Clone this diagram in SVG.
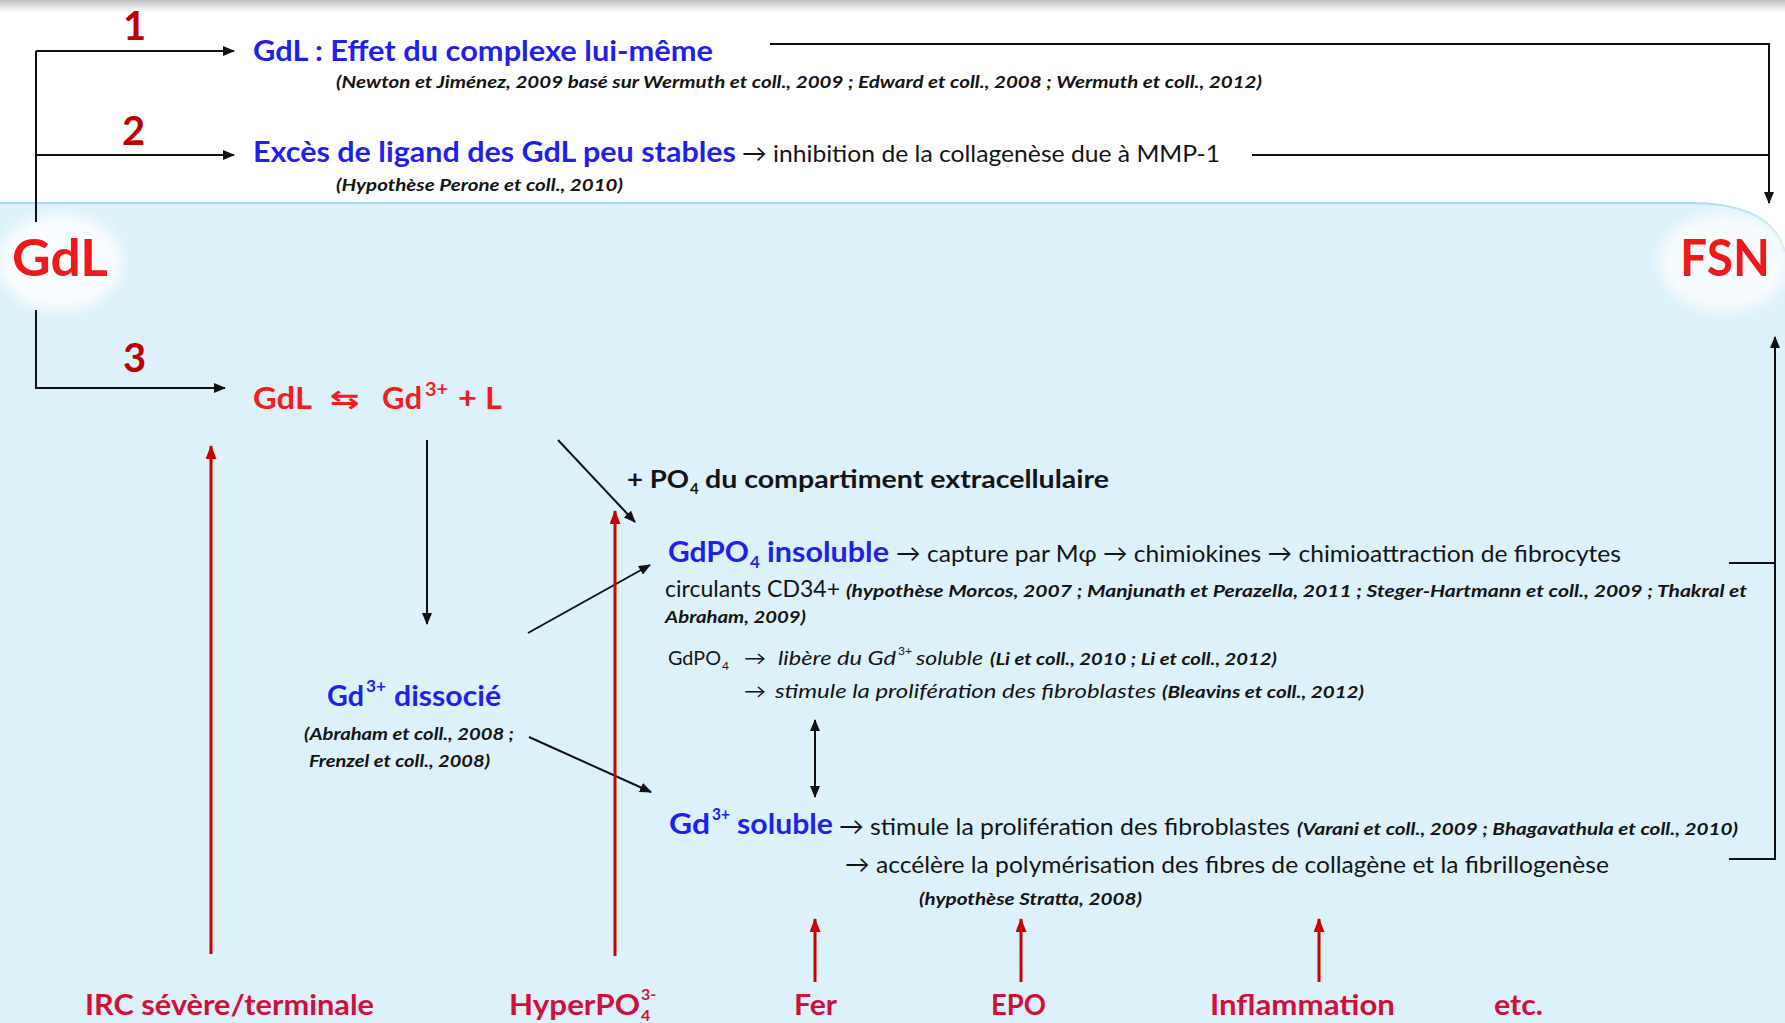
<svg xmlns="http://www.w3.org/2000/svg" width="1785" height="1023" viewBox="0 0 1785 1023">
  <defs>
    <linearGradient id="topShade" x1="0" y1="0" x2="0" y2="1">
      <stop offset="0" stop-color="#c2c2c2"/>
      <stop offset="1" stop-color="#ffffff"/>
    </linearGradient>
    <filter id="soft" x="-50%" y="-50%" width="200%" height="200%">
      <feGaussianBlur stdDeviation="7"/>
    </filter>
    <marker id="ah" viewBox="0 0 12 10" refX="11" refY="5" markerWidth="12" markerHeight="10" markerUnits="userSpaceOnUse" orient="auto-start-reverse">
      <path d="M0,0 L12,5 L0,10 z" fill="#111"/>
    </marker>
    <marker id="ahr" viewBox="0 0 14 11" refX="13" refY="5.5" markerWidth="14" markerHeight="11" markerUnits="userSpaceOnUse" orient="auto-start-reverse">
      <path d="M0,0 L14,5.5 L0,11 z" fill="#cc0000"/>
    </marker>
    <style>
      text { font-family: Lato, "Liberation Sans", "DejaVu Sans", sans-serif; }
      .num { font-size: 40px; font-weight: 700; fill: #c00000; }
      .big { font-size: 52px; font-weight: 700; fill: #f01818; }
      .hdr { font-size: 28px; font-weight: 700; fill: #1f1ff0; }
      .hsup { font-size: 17px; font-weight: 700; fill: #1f1ff0; }
      .eq { font-size: 30px; font-weight: 700; fill: #f51c1c; }
      .eqsup { font-size: 18px; font-weight: 700; fill: #f51c1c; }
      .sym { font-family: "DejaVu Sans", sans-serif; font-size: 26px; font-weight: 700; fill: #f51c1c; }
      .body { font-size: 24px; fill: #141414; }
      .bodyb { font-size: 25px; font-weight: 700; fill: #141414; }
      .sub { font-size: 15px; font-weight: 700; fill: #141414; }
      .cit { font-size: 17px; font-weight: 700; font-style: italic; fill: #141414; }
      .sm { font-size: 19px; fill: #141414; }
      .smi { font-size: 19px; font-style: italic; fill: #141414; }
      .smsup { font-size: 12px; fill: #141414; }
      .bot { font-size: 28px; font-weight: 700; fill: #d0103a; }
      .botsup { font-size: 16px; font-weight: 700; fill: #d0103a; }
      .ln { fill: none; stroke: #111; stroke-width: 2; }
      .lnr { fill: none; stroke: #cc0000; stroke-width: 3; }
    </style>
  </defs>

  <!-- backdrop: white page, shaded top edge, light blue field -->
  <rect x="0" y="0" width="1785" height="1023" fill="#ffffff"/>
  <rect x="0" y="0" width="1785" height="12" fill="url(#topShade)"/>
  <path d="M0,203 H1690 Q1772,203 1785,252 V1023 H0 Z" fill="#dcf1fa"/>
  <path d="M0,203 H1690 Q1772,203 1785,252" fill="none" stroke="#a9dcef" stroke-width="2"/>
  <ellipse cx="60" cy="262" rx="62" ry="48" fill="#ffffff" opacity="0.85" filter="url(#soft)"/>
  <ellipse cx="1725" cy="262" rx="66" ry="50" fill="#ffffff" opacity="0.75" filter="url(#soft)"/>

  <!-- connectors -->
  <g id="connectors">
    <path class="ln" d="M36,51 V222"/>
    <path class="ln" d="M36,51 H234" marker-end="url(#ah)"/>
    <path class="ln" d="M36,155 H234" marker-end="url(#ah)"/>
    <path class="ln" d="M36,310 V388 H225" marker-end="url(#ah)"/>
    <path class="ln" d="M770,44 H1769 V203" marker-end="url(#ah)"/>
    <path class="ln" d="M1252,155 H1769"/>
    <path class="ln" d="M1729,563 H1775"/>
    <path class="ln" d="M1729,859 H1775 V337" marker-end="url(#ah)"/>
    <path class="ln" d="M427,440 V624" marker-end="url(#ah)"/>
    <path class="ln" d="M558,440 L635,522" marker-end="url(#ah)"/>
    <path class="ln" d="M528,633 L650,565" marker-end="url(#ah)"/>
    <path class="ln" d="M529,737 L651,792" marker-end="url(#ah)"/>
    <path class="ln" d="M815,720 V797" marker-start="url(#ah)" marker-end="url(#ah)"/>
    <path class="lnr" d="M211,954 V446" marker-end="url(#ahr)"/>
    <path class="lnr" d="M615,956 V511" marker-end="url(#ahr)"/>
    <path class="lnr" d="M815,982 V919" marker-end="url(#ahr)"/>
    <path class="lnr" d="M1021,982 V919" marker-end="url(#ahr)"/>
    <path class="lnr" d="M1319,982 V919" marker-end="url(#ahr)"/>
  </g>

  <!-- pathway numbers -->
  <g id="label-1"><text class="num" x="123" y="40">1</text></g>
  <g id="label-2"><text class="num" x="122" y="145">2</text></g>
  <g id="label-3"><text class="num" x="123" y="372">3</text></g>

  <!-- end points -->
  <g id="node-gdl"><text class="big" x="12" y="276" textLength="96" lengthAdjust="spacingAndGlyphs">GdL</text></g>
  <g id="node-fsn"><text class="big" x="1680" y="276" textLength="90" lengthAdjust="spacingAndGlyphs">FSN</text></g>

  <!-- pathway 1 -->
  <g id="node-effet">
    <text class="hdr" x="253" y="61" textLength="460" lengthAdjust="spacingAndGlyphs">GdL : Effet du complexe lui-même</text>
    <text class="cit" x="336" y="88" textLength="926" lengthAdjust="spacingAndGlyphs">(Newton et Jiménez, 2009 basé sur Wermuth et coll., 2009 ; Edward et coll., 2008 ; Wermuth et coll., 2012)</text>
  </g>

  <!-- pathway 2 -->
  <g id="node-exces">
    <text class="hdr" x="253" y="162" textLength="483" lengthAdjust="spacingAndGlyphs">Excès de ligand des GdL peu stables</text>
    <text class="body" x="742" y="162" textLength="478" lengthAdjust="spacingAndGlyphs">→ inhibition de la collagenèse due à MMP-1</text>
    <text class="cit" x="336" y="191" textLength="287" lengthAdjust="spacingAndGlyphs">(Hypothèse Perone et coll., 2010)</text>
  </g>

  <!-- pathway 3: dissociation equilibrium -->
  <g id="node-equilibre">
    <text class="eq" x="253" y="409" textLength="59" lengthAdjust="spacingAndGlyphs">GdL</text>
    <text class="sym" x="330" y="408" textLength="30" lengthAdjust="spacingAndGlyphs">⇆</text>
    <text class="eq" x="382" y="409" textLength="40" lengthAdjust="spacingAndGlyphs">Gd</text>
    <text class="eqsup" x="425" y="396" textLength="23" lengthAdjust="spacingAndGlyphs">3+</text>
    <text class="eq" x="458" y="409" textLength="44" lengthAdjust="spacingAndGlyphs">+ L</text>
  </g>

  <g id="node-po4">
    <text class="bodyb" x="627" y="488" textLength="62" lengthAdjust="spacingAndGlyphs">+ PO</text>
    <text class="sub" x="690" y="494">4</text>
    <text class="bodyb" x="705" y="488" textLength="404" lengthAdjust="spacingAndGlyphs">du compartiment extracellulaire</text>
  </g>

  <g id="node-gdpo4">
    <text class="hdr" x="668" y="562" textLength="81" lengthAdjust="spacingAndGlyphs">GdPO</text>
    <text class="hsup" x="750" y="568">4</text>
    <text class="hdr" x="767" y="562" textLength="122" lengthAdjust="spacingAndGlyphs">insoluble</text>
    <text class="body" x="896" y="562" textLength="725" lengthAdjust="spacingAndGlyphs">→ capture par Mφ → chimiokines → chimioattraction de fibrocytes</text>
    <text class="body" x="665" y="597" textLength="175" lengthAdjust="spacingAndGlyphs">circulants CD34+</text>
    <text class="cit" x="846" y="597" textLength="901" lengthAdjust="spacingAndGlyphs">(hypothèse Morcos, 2007 ; Manjunath et Perazella, 2011 ; Steger-Hartmann et coll.,  2009 ;  Thakral et</text>
    <text class="cit" x="665" y="623" textLength="141" lengthAdjust="spacingAndGlyphs">Abraham, 2009)</text>
    <text class="sm" x="668" y="665" textLength="53" lengthAdjust="spacingAndGlyphs">GdPO</text>
    <text class="smsup" x="722" y="670">4</text>
    <text class="sm" x="744" y="665" textLength="22" lengthAdjust="spacingAndGlyphs">→</text>
    <text class="smi" x="778" y="665" textLength="118" lengthAdjust="spacingAndGlyphs">libère du Gd</text>
    <text class="smsup" x="898" y="655">3+</text>
    <text class="smi" x="916" y="665" textLength="67" lengthAdjust="spacingAndGlyphs">soluble</text>
    <text class="cit" x="990" y="665" textLength="287" lengthAdjust="spacingAndGlyphs">(Li et coll., 2010 ; Li et coll., 2012)</text>
    <text class="sm" x="744" y="698" textLength="22" lengthAdjust="spacingAndGlyphs">→</text>
    <text class="smi" x="775" y="698" textLength="381" lengthAdjust="spacingAndGlyphs">stimule la prolifération des fibroblastes</text>
    <text class="cit" x="1162" y="698" textLength="202" lengthAdjust="spacingAndGlyphs">(Bleavins et coll., 2012)</text>
  </g>

  <g id="node-dissocie">
    <text class="hdr" x="327" y="706" textLength="37" lengthAdjust="spacingAndGlyphs">Gd</text>
    <text class="hsup" x="366" y="692" textLength="20" lengthAdjust="spacingAndGlyphs">3+</text>
    <text class="hdr" x="394" y="706" textLength="107" lengthAdjust="spacingAndGlyphs">dissocié</text>
    <text class="cit" x="304" y="740" textLength="210" lengthAdjust="spacingAndGlyphs">(Abraham et coll., 2008 ;</text>
    <text class="cit" x="309" y="767" textLength="181" lengthAdjust="spacingAndGlyphs">Frenzel et coll., 2008)</text>
  </g>

  <g id="node-soluble">
    <text class="hdr" x="669" y="834" textLength="41" lengthAdjust="spacingAndGlyphs">Gd</text>
    <text class="hsup" x="712" y="820" textLength="18" lengthAdjust="spacingAndGlyphs">3+</text>
    <text class="hdr" x="737" y="834" textLength="96" lengthAdjust="spacingAndGlyphs">soluble</text>
    <text class="body" x="839" y="835" textLength="451" lengthAdjust="spacingAndGlyphs">→ stimule la prolifération des fibroblastes</text>
    <text class="cit" x="1297" y="835" textLength="441" lengthAdjust="spacingAndGlyphs">(Varani et coll., 2009 ; Bhagavathula et coll., 2010)</text>
    <text class="body" x="845" y="873" textLength="764" lengthAdjust="spacingAndGlyphs">→ accélère la polymérisation des fibres de collagène et la fibrillogenèse</text>
    <text class="cit" x="919" y="905" textLength="223" lengthAdjust="spacingAndGlyphs">(hypothèse Stratta, 2008)</text>
  </g>

  <!-- aggravating factors -->
  <g id="node-irc"><text class="bot" x="85" y="1015" textLength="289" lengthAdjust="spacingAndGlyphs">IRC sévère/terminale</text></g>
  <g id="node-hyperpo4">
    <text class="bot" x="509" y="1015" textLength="131" lengthAdjust="spacingAndGlyphs">HyperPO</text>
    <text class="botsup" x="641" y="1021">4</text>
    <text class="botsup" x="641" y="1000">3-</text>
  </g>
  <g id="node-fer"><text class="bot" x="794" y="1015" textLength="43" lengthAdjust="spacingAndGlyphs">Fer</text></g>
  <g id="node-epo"><text class="bot" x="991" y="1015" textLength="55" lengthAdjust="spacingAndGlyphs">EPO</text></g>
  <g id="node-inflammation"><text class="bot" x="1210" y="1015" textLength="185" lengthAdjust="spacingAndGlyphs">Inflammation</text></g>
  <g id="node-etc"><text class="bot" x="1494" y="1015" textLength="49" lengthAdjust="spacingAndGlyphs">etc.</text></g>
</svg>
